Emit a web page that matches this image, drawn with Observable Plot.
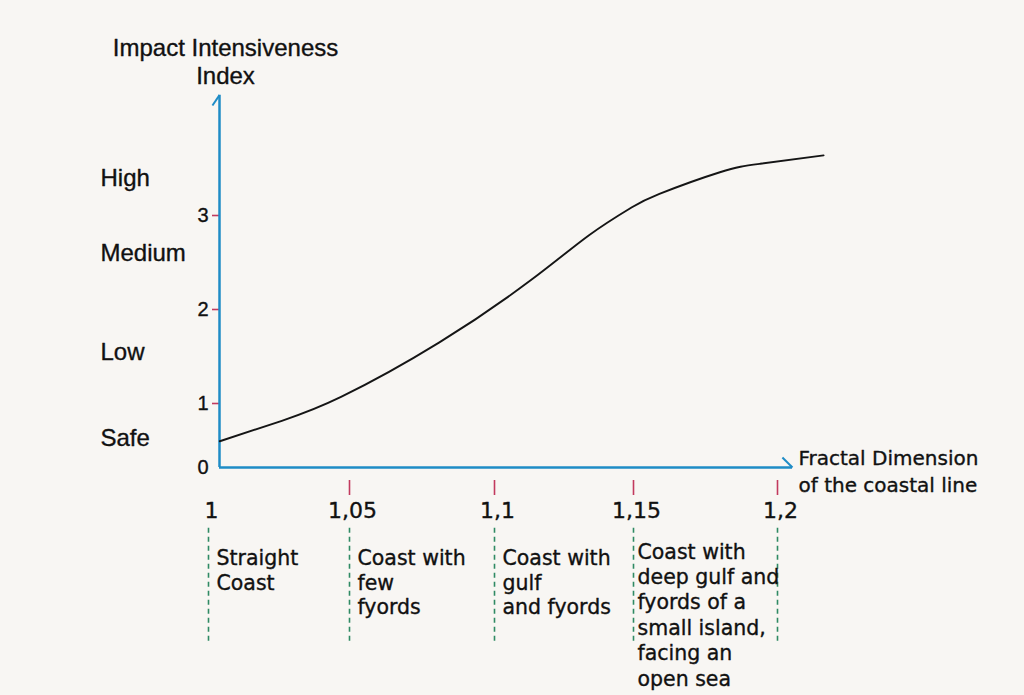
<!DOCTYPE html>
<html>
<head>
<meta charset="utf-8">
<script src="https://cdn.jsdelivr.net/npm/d3@7"></script>
<script src="https://cdn.jsdelivr.net/npm/@observablehq/plot@0.6"></script>
<style>
  html, body { margin: 0; padding: 0; background: #f8f6f3; }
  #chart svg { display: block; background: #f8f6f3; }
</style>
</head>
<body>
<div id="chart"></div>
<script>
// ---- data ----
const xTicks = [1, 1.05, 1.1, 1.15, 1.2];
const xTickLabels = ["1", "1,05", "1,1", "1,15", "1,2"];
const xMarkedTicks = [1.05, 1.1, 1.15, 1.2];
const yTicks = [0, 1, 2, 3];
const yTickLabels = ["0", "1", "2", "3"];
const levelNames = ["High", "Medium", "Low", "Safe"];
const levelValues = [3.4, 2.6, 1.54, 0.45];
const curveX = [1.004, 1.026, 1.047, 1.081, 1.113, 1.134, 1.149, 1.159, 1.180, 1.194, 1.216];
const curveY = [0.41, 0.73, 1.07, 1.65, 2.31, 2.79, 3.08, 3.23, 3.46, 3.55, 3.64];
const boundaries = [1, 1.05, 1.1, 1.15, 1.2];
const categoryStarts = [1, 1.05, 1.1];
const categoryTexts = ["Straight\nCoast", "Coast with\nfew\nfyords", "Coast with\ngulf\nand fyords"];
const lastCategoryStart = [1.15];
const lastCategoryText = ["Coast with\ndeep gulf and\nfyords of a\nsmall island,\nfacing an\nopen sea"];
const yTitle = "Impact Intensiveness\nIndex";
const xTitle = "Fractal Dimension\nof the coastal line";

// axis geometry (data units)
const axisX0 = 1.0039, xEnd = 1.2052, yTop = 4.28;
const dividerTop = -0.95, dividerBottom = -2.75;

const curve = curveX.map((x, i) => ({x, y: curveY[i]}));
const xLab = xTicks.map((x, i) => ({x, t: xTickLabels[i]}));
const yLab = yTicks.map((y, i) => ({y, t: yTickLabels[i]}));
const levels = levelNames.map((t, i) => ({t, y: levelValues[i]}));

const blue = "#1f8cc6", red = "#c23a5e", green = "#2f8a64";
const sans = "'Liberation Sans', Arial, sans-serif";
const verd = "'DejaVu Sans', Verdana, sans-serif";
const ink = "#111";
const heavy = {fill: ink, stroke: ink, strokeWidth: 0.35};

const chart = Plot.plot({
  width: 1024,
  height: 695,
  marginLeft: 219,
  marginTop: 95,
  marginBottom: 228,
  marginRight: 232,
  style: {background: "#f8f6f3", overflow: "visible"},
  x: {type: "linear", domain: xTicks, range: [208, 349, 494, 633, 777]},
  y: {type: "linear", domain: yTicks, range: [467, 403, 309, 215]},
  marks: [
    // dividers
    Plot.ruleX(boundaries, {x: d => d, y1: dividerTop, y2: dividerBottom, stroke: green, strokeWidth: 1.6, strokeDasharray: "5,4"}),
    // red ticks
    Plot.axisY({ticks: [1, 2, 3], tickSize: 7, stroke: red, strokeWidth: 1.6, tickFormat: () => "", label: null}),
    Plot.axisX({ticks: xMarkedTicks, tickSize: 15, dy: 13, stroke: red, strokeWidth: 1.6, tickFormat: () => "", label: null}),
    // blue axes
    Plot.ruleX([axisX0], {x: d => d, y1: 0, y2: yTop, stroke: blue, strokeWidth: 2.5}),
    Plot.ruleY([0], {y: d => d, x1: axisX0, x2: xEnd, stroke: blue, strokeWidth: 2.5}),
    Plot.link([{x1: axisX0, y1: yTop, x2: 1.0014, y2: 4.17}], {x1: "x1", y1: "y1", x2: "x2", y2: "y2", stroke: blue, strokeWidth: 2}),
    Plot.link([{x1: xEnd, y1: 0, x2: 1.2017, y2: 0.156}], {x1: "x1", y1: "y1", x2: "x2", y2: "y2", stroke: blue, strokeWidth: 2}),
    // curve
    Plot.line(curve, {x: "x", y: "y", curve: "natural", stroke: "#151515", strokeWidth: 1.9}),
    // tick labels
    Plot.text(xLab, {x: "x", text: "t", frameAnchor: "bottom", lineAnchor: "top", dy: 35, dx: 3, fontSize: 22, fontFamily: verd, ...heavy}),
    Plot.text(yLab, {y: "y", text: "t", frameAnchor: "left", textAnchor: "end", dx: -11, fontSize: 20, fontFamily: sans, ...heavy}),
    // level labels
    Plot.text(levels, {y: "y", text: "t", frameAnchor: "left", textAnchor: "start", dx: -119, fontSize: 24, fontFamily: sans, ...heavy}),
    // category descriptions
    Plot.text(categoryStarts, {x: d => d, text: (d, i) => categoryTexts[i], frameAnchor: "bottom", textAnchor: "start", lineAnchor: "top", dy: 80, dx: 8, lineHeight: 1.2, fontSize: 20.5, fontFamily: verd, ...heavy}),
    Plot.text(lastCategoryStart, {x: d => d, text: (d, i) => lastCategoryText[i], frameAnchor: "bottom", textAnchor: "start", lineAnchor: "top", dy: 73, dx: 4, lineHeight: 1.24, fontSize: 20.5, fontFamily: verd, ...heavy}),
    // titles
    Plot.text([yTitle], {text: d => d, frameAnchor: "top-left", textAnchor: "middle", lineAnchor: "top", dx: 6, dy: -59, lineHeight: 1.15, fontSize: 24, fontFamily: sans, ...heavy}),
    Plot.text([xTitle], {text: d => d, frameAnchor: "bottom-right", textAnchor: "start", lineAnchor: "middle", dx: 6, dy: 2, lineHeight: 1.38, fontSize: 20, fontFamily: verd, ...heavy})
  ]
});
document.getElementById("chart").appendChild(chart);
</script>
</body>
</html>
